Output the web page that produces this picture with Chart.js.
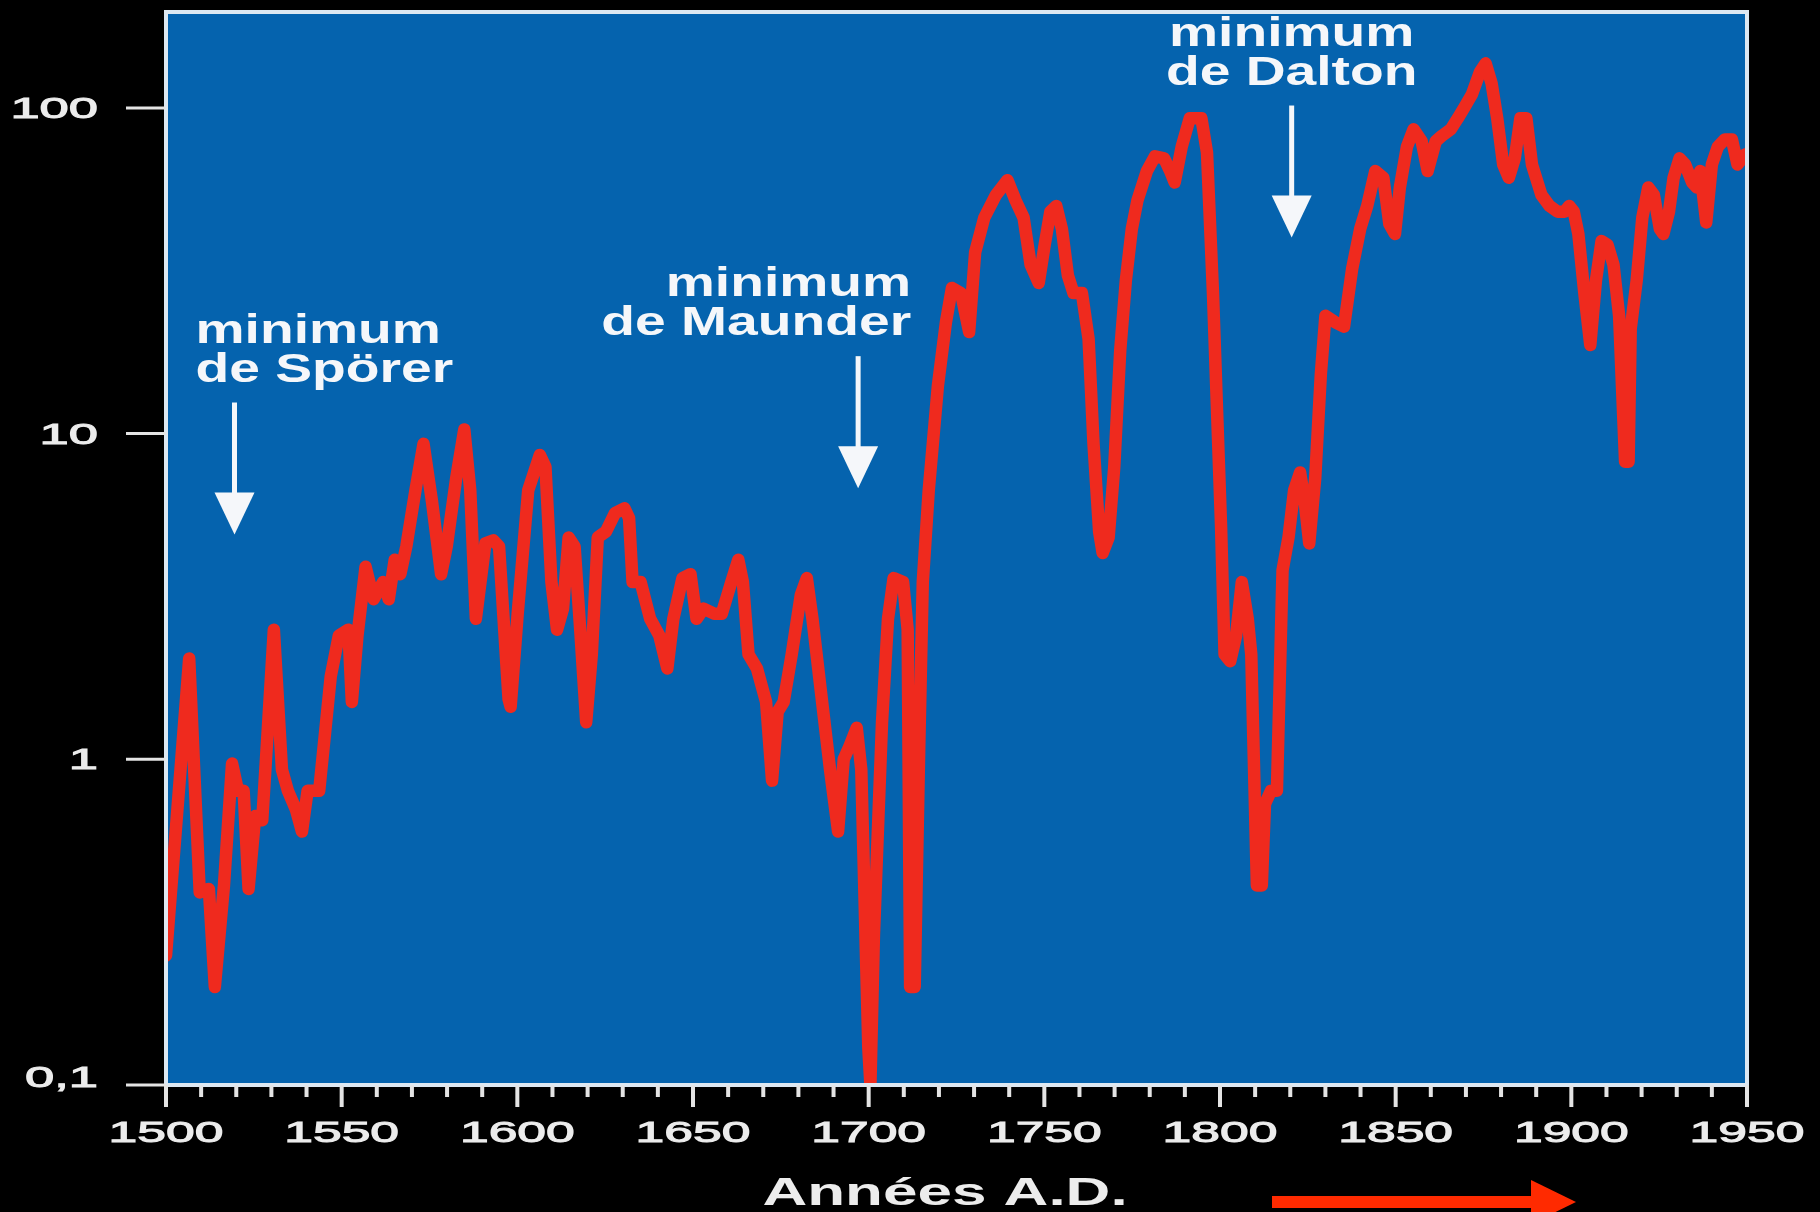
<!DOCTYPE html>
<html lang="fr">
<head>
<meta charset="utf-8">
<title>Nombre de taches solaires 1500–1950</title>
<script src="https://cdn.jsdelivr.net/npm/chart.js@4/dist/chart.umd.min.js"></script>
<style>
  html, body { margin: 0; padding: 0; background: #000; }
  #wrap { width: 1820px; height: 1212px; position: relative; }
  canvas { display: block; }
</style>
</head>
<body>
<div id="wrap"><canvas id="chart" width="1820" height="1212" style="width:1820px;height:1212px"></canvas></div>
<script>
// Reconstructed sunspot activity (log scale), years A.D.
const years = [
  1500, 1506.6, 1509.6, 1512.2, 1513.9, 1516.5, 1518.8, 1520.5, 1522.1, 1523.5,
  1525.4, 1527.4, 1530.7, 1533, 1534.7, 1537, 1538.7, 1540.3, 1543.6, 1546.9,
  1549.2, 1551.9, 1552.9, 1554.5, 1556.8, 1559.1, 1561.8, 1563.4, 1565.1, 1566.7,
  1568.4, 1571, 1573.3, 1575.7, 1578.3, 1579.9, 1582.6, 1584.9, 1586.6, 1588.2,
  1590.9, 1593.2, 1594.8, 1597.5, 1598.1, 1600.1, 1603.1, 1606.4, 1608, 1609.7,
  1611.3, 1613, 1614.6, 1616.3, 1617.9, 1619.6, 1621.2, 1622.9, 1625.2, 1627.8,
  1630.5, 1631.8, 1632.8, 1635.1, 1637.8, 1640.4, 1642.7, 1644.4, 1647, 1649.3,
  1651, 1653, 1656, 1658.2, 1660.9, 1662.9, 1664.2, 1665.8, 1668.2, 1670.8,
  1672.5, 1674.1, 1675.8, 1678.1, 1680.7, 1682.4, 1684, 1686.3, 1689, 1691.3,
  1692.9, 1694.6, 1696.6, 1697.9, 1699.9, 1700.5, 1701.5, 1703.8, 1705.5, 1707.1,
  1709.8, 1711.1, 1711.8, 1713.1, 1714.4, 1715.4, 1717.1, 1719.7, 1722, 1723.7,
  1726.3, 1728.6, 1730.3, 1732.9, 1736.2, 1739.5, 1741.8, 1744.1, 1746.1, 1748.4,
  1750.1, 1751.7, 1753.4, 1755, 1756.7, 1758.3, 1760.7, 1762.6, 1764, 1765.6,
  1766.6, 1768.3, 1769.9, 1771.6, 1773.2, 1774.9, 1776.5, 1779.2, 1781.5, 1784.1,
  1785.8, 1787.1, 1789.1, 1791.4, 1794.7, 1796.3, 1798, 1800.3, 1801.3, 1802.9,
  1804.6, 1806.2, 1807.9, 1808.9, 1810.5, 1811.9, 1812.8, 1814.5, 1816.2, 1817.8,
  1819.5, 1821.1, 1822.8, 1824.1, 1825.4, 1827.1, 1828.7, 1830, 1832.7, 1835.3,
  1837.6, 1839.9, 1841.9, 1844.2, 1846.5, 1848.2, 1849.8, 1851.2, 1853.2, 1855.1,
  1857.4, 1859.1, 1861.4, 1863.1, 1865.7, 1867.7, 1869.7, 1871.7, 1874, 1875.6,
  1877.3, 1878.9, 1880.6, 1882.2, 1883.9, 1885.5, 1887.2, 1888.8, 1891.5, 1893.8,
  1896.1, 1898.1, 1899.4, 1900.7, 1902, 1903.7, 1905.4, 1907, 1908.6, 1910.3,
  1912, 1913.6, 1915.3, 1916.3, 1916.9, 1918.6, 1920.2, 1921.9, 1923.5, 1925.2,
  1926.2, 1927.8, 1929.1, 1930.8, 1932.4, 1934.4, 1935.7, 1936.7, 1938.4, 1940,
  1941.7, 1943.7, 1945.7, 1947.3, 1949.5
];

const sunspots = [
  0.25, 2.04, 0.39, 0.4, 0.2, 0.41, 0.97, 0.8, 0.8, 0.4,
  0.67, 0.65, 2.5, 0.93, 0.8, 0.7, 0.6, 0.8, 0.8, 1.8,
  2.4, 2.5, 1.5, 2.4, 3.9, 3.1, 3.5, 3.1, 4.1, 3.7,
  4.5, 6.7, 9.3, 6.2, 3.7, 4.5, 7.3, 10.3, 6.7, 2.7,
  4.6, 4.7, 4.5, 1.53, 1.45, 2.8, 6.7, 8.6, 7.9, 3.5,
  2.5, 2.9, 4.8, 4.5, 2.5, 1.3, 2.1, 4.8, 5.0, 5.7,
  5.9, 5.5, 3.5, 3.5, 2.7, 2.4, 1.9, 2.7, 3.6, 3.7,
  2.7, 2.9, 2.8, 2.8, 3.5, 4.1, 3.5, 2.1, 1.9, 1.5,
  0.86, 1.4, 1.5, 2.1, 3.2, 3.6, 2.7, 1.65, 0.93, 0.6,
  1.0, 1.1, 1.25, 0.93, 0.13, 0.1, 0.29, 1.3, 2.7, 3.6,
  3.5, 2.5, 0.2, 0.2, 1.1, 3.5, 6.7, 14, 22, 28,
  27, 20.5, 36, 46, 54, 60, 52, 46, 33, 29,
  38, 48, 50, 42.5, 30.6, 27, 27, 19.5, 9.3, 5.0,
  4.3, 4.8, 7.9, 18, 29.5, 42.5, 52, 64, 71, 70,
  64, 59, 76, 93, 93, 73, 27, 5.2, 2.1, 2.0,
  2.4, 3.5, 2.7, 2.1, 0.41, 0.41, 0.73, 0.8, 0.8, 3.8,
  4.8, 6.7, 7.6, 6.2, 4.6, 7.3, 15.2, 23, 22, 21.3,
  32, 42.5, 50, 64, 61, 44, 41, 57, 76, 86,
  79, 64, 79, 82, 86, 93, 101, 110, 129, 137,
  119, 93, 67, 61, 70, 93, 93, 67, 54, 50,
  48, 48, 50, 48, 41, 27, 18.7, 29.5, 39, 38,
  33, 23, 8.2, 8.2, 21, 29.5, 46, 57, 54, 42.5,
  41, 48, 61, 70, 67, 59, 57, 64, 44.5, 67,
  76, 80, 80, 67, 72
];

// Axis ticks and labels
const xTickYears  = [1500, 1550, 1600, 1650, 1700, 1750, 1800, 1850, 1900, 1950];
const xTickLabels = ['1500', '1550', '1600', '1650', '1700', '1750', '1800', '1850', '1900', '1950'];
const yTickValues = [0.1, 1, 10, 100];
const yTickLabels = ['0,1', '1', '10', '100'];
const xAxisTitle  = 'Années A.D.';

// Named grand minima: label lines, year the arrow points at, value at the arrow tip
const minimaLabels = [['minimum', 'de Spörer'], ['minimum', 'de Maunder'], ['minimum', 'de Dalton']];
const minimaYears  = [1519.5, 1697, 1820.4];
const minimaTips   = [4.9, 6.8, 40];
const minimaAlign  = ['left', 'right', 'center'];

const BLUE = '#0563ae';
const LINE_RED = '#ef2a1e';
const INK = '#ececec';
const FONT = '"Liberation Sans", Arial, Helvetica, sans-serif';

// Horizontally widened text, as in the original artwork
function wideText(ctx, text, x, y, sx, align, heavy) {
  ctx.save();
  ctx.translate(x, y);
  ctx.scale(sx, 1);
  ctx.textAlign = align;
  ctx.textBaseline = 'alphabetic';
  ctx.fillText(text, 0, 0);
  if (heavy) {
    ctx.strokeStyle = ctx.fillStyle;
    ctx.lineWidth = heavy;
    ctx.strokeText(text, 0, 0);
  }
  ctx.restore();
}

const frame = {
  id: 'frame',
  beforeDatasetsDraw(chart) {
    const { ctx, chartArea: a } = chart;
    ctx.save();
    ctx.fillStyle = BLUE;
    ctx.fillRect(a.left, a.top, a.right - a.left, a.bottom - a.top);
    ctx.restore();
  },
  afterDatasetsDraw(chart) {
    const { ctx, chartArea: a } = chart;
    const xs = chart.scales.x, ys = chart.scales.y;
    ctx.save();

    // frame
    ctx.strokeStyle = '#dde8f2';
    ctx.lineWidth = 4;
    ctx.strokeRect(a.left, a.top, a.right - a.left, a.bottom - a.top);

    // x ticks: major every 50 years, minor every 10
    ctx.strokeStyle = '#e4e4e4';
    ctx.lineWidth = 4;
    for (let yr = xs.min; yr <= xs.max; yr += 10) {
      const px = xs.getPixelForValue(yr);
      const major = (yr - xs.min) % 50 === 0;
      ctx.beginPath();
      ctx.moveTo(px, a.bottom);
      ctx.lineTo(px, a.bottom + (major ? 22 : 12));
      ctx.stroke();
    }

    // y ticks
    ctx.lineWidth = 3;
    yTickValues.forEach(v => {
      const py = ys.getPixelForValue(v);
      ctx.beginPath();
      ctx.moveTo(a.left - 40, py);
      ctx.lineTo(a.left, py);
      ctx.stroke();
    });

    // tick labels
    ctx.fillStyle = INK;
    ctx.font = '30px ' + FONT;
    xTickYears.forEach((yr, i) => {
      wideText(ctx, xTickLabels[i], xs.getPixelForValue(yr), a.bottom + 57, 1.72, 'center', 1);
    });
    yTickValues.forEach((v, i) => {
      const py = ys.getPixelForValue(v);
      const off = v === ys.min ? 2 : 10;
      wideText(ctx, yTickLabels[i], a.left - 68, py + off, 1.75, 'right', 1);
    });

    // axis title
    ctx.font = 'bold 39px ' + FONT;
    wideText(ctx, xAxisTitle, 945, 1205, 1.59, 'center');

    // annotations for the grand minima
    ctx.fillStyle = '#f5f7fa';
    ctx.strokeStyle = '#f5f7fa';
    minimaLabels.forEach((lines, i) => {
      const px = xs.getPixelForValue(minimaYears[i]);
      const tip = ys.getPixelForValue(minimaTips[i]);
      const head = 42, half = 20, shaft = 90;
      const top = tip - head - shaft;
      ctx.lineWidth = 5;
      ctx.beginPath();
      ctx.moveTo(px, top);
      ctx.lineTo(px, tip - head + 2);
      ctx.stroke();
      ctx.beginPath();
      ctx.moveTo(px - half, tip - head);
      ctx.lineTo(px + half, tip - head);
      ctx.lineTo(px, tip);
      ctx.closePath();
      ctx.fill();

      ctx.font = 'bold 40px ' + FONT;
      let tx = px;
      if (minimaAlign[i] === 'left') tx = px - 39;
      if (minimaAlign[i] === 'right') tx = px + 53;
      wideText(ctx, lines[0], tx, top - 60, 1.38, minimaAlign[i]);
      wideText(ctx, lines[1], tx, top - 21, 1.38, minimaAlign[i]);
    });

    // red time arrow under the axis
    ctx.fillStyle = '#ff2a00';
    ctx.fillRect(1272, 1196, 259, 12);
    ctx.beginPath();
    ctx.moveTo(1531, 1180);
    ctx.lineTo(1576, 1202);
    ctx.lineTo(1531, 1224);
    ctx.closePath();
    ctx.fill();

    ctx.restore();
  }
};

new Chart(document.getElementById('chart').getContext('2d'), {
  type: 'line',
  data: {
    datasets: [{
      data: years.map((yr, i) => ({ x: yr, y: sunspots[i] })),
      borderColor: LINE_RED,
      borderWidth: 12.5,
      borderJoinStyle: 'round',
      borderCapStyle: 'round',
      pointRadius: 0,
      tension: 0,
      fill: false
    }]
  },
  options: {
    responsive: false,
    animation: false,
    devicePixelRatio: 1,
    layout: { padding: { left: 166, top: 12, right: 73, bottom: 127 } },
    plugins: { legend: { display: false }, tooltip: { enabled: false } },
    scales: {
      x: { type: 'linear', min: 1500, max: 1950, display: false },
      y: { type: 'logarithmic', min: 0.1, max: 197, display: false }
    }
  },
  plugins: [frame]
});
</script>
</body>
</html>
